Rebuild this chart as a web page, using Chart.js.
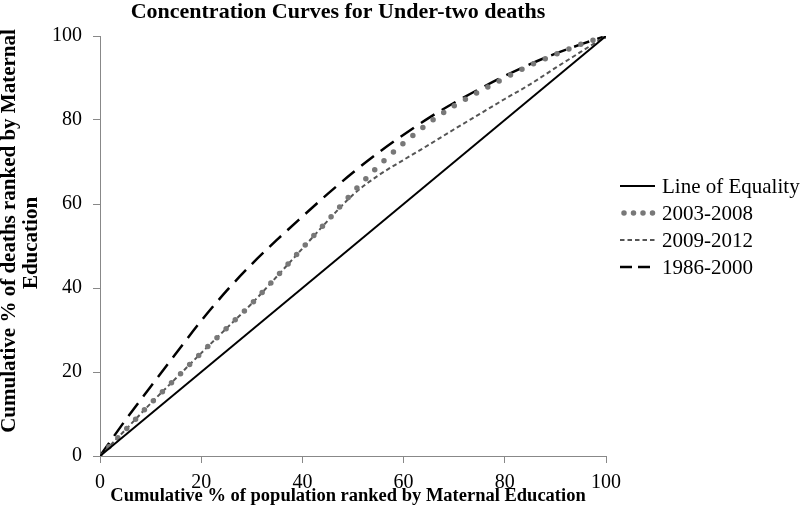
<!DOCTYPE html>
<html>
<head>
<meta charset="utf-8">
<script src="https://cdn.jsdelivr.net/npm/chart.js@4.4.0/dist/chart.umd.min.js"></script>
<style>
  html, body { margin: 0; padding: 0; background: #fff; }
  #wrap { width: 800px; height: 513px; position: relative; }
</style>
</head>
<body>
<div id="wrap"><canvas id="myChart"></canvas></div>
<script>
// cumulative % of population (x) and cumulative % of deaths (y)
const popShare = [0, 5, 10, 15, 20, 25, 30, 35, 40, 45, 50, 55, 60, 65, 70, 75, 80, 85, 90, 95, 100];
const equalityX = [0, 100];
const equalityY = [0, 100];
const deaths0308 = [0, 6.2, 12.5, 18.5, 24.5, 30.4, 36.3, 42.8, 49.5, 56.1, 62.8, 69, 74.5, 79.3, 83.4, 86.8, 90, 93, 95.6, 98, 100];
const deaths0912 = [0, 6.2, 12.5, 18.5, 24.5, 30.4, 36.3, 42.8, 49.4, 56, 62.2, 66.8, 70.5, 74.1, 77.8, 81.4, 85, 88.5, 92.4, 96.2, 100];
const deaths8600 = [0, 8.5, 16.5, 24.4, 32.2, 39.3, 45.7, 51.5, 57, 62.4, 67.5, 72.2, 76.5, 80.5, 84.1, 87.4, 90.5, 93.3, 95.8, 98, 100];
const seriesNames = ['Line of Equality', '2003-2008', '2009-2012', '1986-2000'];
const axisTicks = [0, 20, 40, 60, 80, 100];

const SERIF = '"Liberation Serif", "Times New Roman", serif';

function pts(xs, ys) {
  return xs.map((x, i) => ({ x: x, y: ys[i] }));
}

const styles = [
  { color: '#000000', width: 2, dash: [], legendDash: [], cap: 'butt' },
  { color: '#787878', width: 5.5, dash: [0, 12.8], legendDash: [0, 9.5], cap: 'round' },
  { color: '#555555', width: 2, dash: [4.5, 3], legendDash: [4.5, 3], cap: 'butt' },
  { color: '#000000', width: 2.5, dash: [16, 8.5], legendDash: [12, 6], cap: 'butt' }
];

const seriesData = [
  pts(equalityX, equalityY),
  pts(popShare, deaths0308),
  pts(popShare, deaths0912),
  pts(popShare, deaths8600)
];

// title, axis titles and legend drawn on the canvas
const extras = {
  id: 'extras',
  afterDraw(chart) {
    const c = chart.ctx;
    c.save();
    c.fillStyle = '#000';
    c.textBaseline = 'alphabetic';
    c.textAlign = 'center';
    c.font = 'bold 22px ' + SERIF;
    c.fillText('Concentration Curves for Under-two deaths', 338, 18);

    c.font = 'bold 18.5px ' + SERIF;
    c.fillText('Cumulative % of population ranked by Maternal Education', 348, 501);

    c.font = 'bold 21px ' + SERIF;
    c.save();
    c.translate(15, 231);
    c.rotate(-Math.PI / 2);
    c.fillText('Cumulative % of deaths ranked by Maternal', 0, 0);
    c.restore();
    c.save();
    c.translate(37, 243);
    c.rotate(-Math.PI / 2);
    c.fillText('Education', 0, 0);
    c.restore();

    c.font = '21px ' + SERIF;
    c.textAlign = 'left';
    seriesNames.forEach((name, i) => {
      const y = 186 + i * 27;
      const s = styles[i];
      c.beginPath();
      c.strokeStyle = s.color;
      c.lineWidth = s.width;
      c.setLineDash(s.legendDash);
      c.lineCap = s.cap;
      c.moveTo(s.cap === 'round' ? 624 : 620, y);
      c.lineTo(655, y);
      c.stroke();
      c.setLineDash([]);
      c.fillText(name, 662, y + 7);
    });
    c.restore();
  }
};

var ctx = document.getElementById('myChart');
var myChart = new Chart(ctx, {
  type: 'line',
  data: {
    datasets: seriesNames.map((name, i) => ({
      label: name,
      data: seriesData[i],
      borderColor: styles[i].color,
      borderWidth: styles[i].width,
      borderDash: styles[i].dash,
      borderCapStyle: styles[i].cap,
      pointRadius: 0,
      fill: false,
      cubicInterpolationMode: 'monotone'
    }))
  },
  options: {
    responsive: true,
    maintainAspectRatio: false,
    animation: false,
    layout: { padding: { left: 0, right: 194, top: 36, bottom: 0 } },
    plugins: {
      legend: { display: false },
      title: { display: false },
      tooltip: { enabled: false }
    },
    scales: {
      x: {
        type: 'linear',
        min: 0,
        max: 100,
        afterFit: function (scale) { scale.height = 57; },
        afterBuildTicks: function (scale) { scale.ticks = axisTicks.map(v => ({ value: v })); },
        grid: { drawOnChartArea: false, drawTicks: true, tickLength: 7, color: '#888888' },
        border: { display: true, color: '#888888', width: 1 },
        ticks: { color: '#000', font: { family: SERIF, size: 20 }, padding: 8, maxRotation: 0 }
      },
      y: {
        min: 0,
        max: 100,
        afterFit: function (scale) { scale.width = 100; },
        afterBuildTicks: function (scale) { scale.ticks = axisTicks.map(v => ({ value: v })); },
        grid: { drawOnChartArea: false, drawTicks: true, tickLength: 7, color: '#888888' },
        border: { display: true, color: '#888888', width: 1 },
        ticks: { color: '#000', font: { family: SERIF, size: 20 }, padding: 11 }
      }
    }
  },
  plugins: [extras]
});
</script>
</body>
</html>
